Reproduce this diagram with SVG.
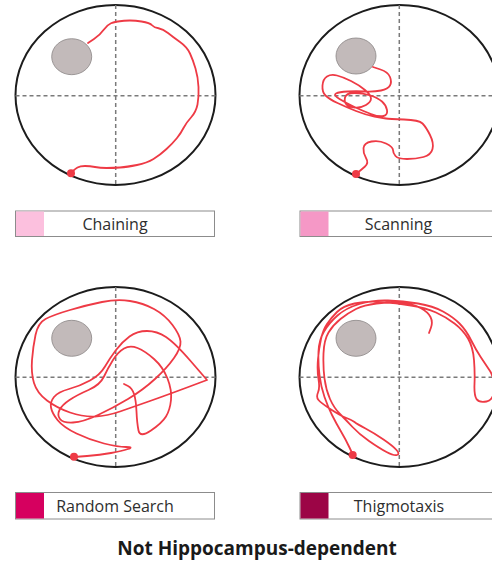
<svg xmlns="http://www.w3.org/2000/svg" width="492" height="563" viewBox="0 0 492 563">
<style>
.pool{fill:#fff;stroke:#1c1c1c;stroke-width:2}
.axis{stroke:#7a7a7a;stroke-width:1.5;stroke-dasharray:4 3;fill:none}
.plat{fill:#c2baba;stroke:#8a8585;stroke-width:0.8}
.track{fill:none;stroke:#ee3a45;stroke-width:1.8;stroke-linecap:round;stroke-linejoin:round}
.start{fill:#ee3a45}
.box{fill:#fff;stroke:#8c8c8c;stroke-width:1}
.lbl{font-family:"Open Sans","Noto Sans",sans-serif;font-size:16px;fill:#2e2e2e;text-anchor:middle}
.title{font-family:"Open Sans","Noto Sans",sans-serif;font-size:19px;font-weight:bold;fill:#1a1a1a;text-anchor:middle}
</style>
<rect width="492" height="563" fill="#fff"/>
<g id="panel-chaining">
<ellipse class="pool" cx="115.5" cy="95" rx="100" ry="90"/>
<line class="axis" x1="15.5" y1="95.7" x2="215.5" y2="95.7"/>
<line class="axis" x1="115.7" y1="5" x2="115.7" y2="185"/>
<ellipse class="plat" cx="71.7" cy="56.7" rx="20" ry="18"/>
<path class="track" d="M88,43 L94,39 Q100,35 103.5,30 Q107,25 111,23.25 Q115,21.5 124,20.75 Q133,20 141.5,21.5 Q150,23 152,25.25 Q154,27.5 158.5,28.25 Q163,29 168,33 Q173,37 180,42 Q187,47 190,53.5 Q193,60 195.5,68.5 Q198,77 198.5,87 Q199,97 197.5,104.5 Q196,112 191,117.5 Q186,123 183.5,128 Q181,133 177,138 Q173,143 166.5,149 Q160,155 153.5,159 Q147,163 137,165 Q127,167 120,167.5 Q113,168 106.5,168 Q100,168 95,167 Q90,166 85,166 Q80,166 77.5,167.5 Q75,169 73,171 L71,173"/>
<circle class="start" cx="71" cy="173.3" r="4"/>
</g>
<g id="panel-scanning">
<ellipse class="pool" cx="399.5" cy="95" rx="100" ry="90"/>
<line class="axis" x1="299.5" y1="95.7" x2="499.5" y2="95.7"/>
<line class="axis" x1="399.3" y1="5" x2="399.3" y2="185"/>
<ellipse class="plat" cx="356" cy="56" rx="20" ry="18"/>
<path class="track" d="M373,67 L380.5,69.5 Q388,72 390,77 Q392,82 390,85.5 Q388,89 381,90.5 Q374,92 365,91.5 Q356,91 347.5,91.5 Q339,92 336,93.5 Q333,95 339.5,99 Q346,103 354.5,107 Q363,111 371,114 Q379,117 383.5,116 Q388,115 387,110 Q386,105 382,101.5 Q378,98 370.5,95.5 Q363,93 354.5,93 Q346,93 345,97.5 Q344,102 346.5,104.5 Q349,107 355,107.5 Q361,108 366,105 Q371,102 371,98.5 Q371,95 365,90 Q359,85 351,81 Q343,77 337,75.5 Q331,74 327,76.5 Q323,79 322.5,85.5 Q322,92 325.5,95.5 Q329,99 337.5,103 Q346,107 356,111 Q366,115 374.5,116.5 Q383,118 386,118.5 Q389,119 404,119.5 Q419,120 422.5,123.5 Q426,127 430,135 Q434,143 432.5,149 Q431,155 423.5,157 Q416,159 407,159 Q398,159 395.5,156 Q393,153 393,150 Q393,147 386,143.5 Q379,140 371.5,141.5 Q364,143 363.5,148 Q363,153 366,158 Q369,163 365,166.5 Q361,170 358.5,172 L356,174"/>
<circle class="start" cx="356" cy="174" r="4"/>
</g>
<g id="panel-random">
<ellipse class="pool" cx="115.5" cy="377" rx="100" ry="90"/>
<line class="axis" x1="15.5" y1="377.3" x2="215.5" y2="377.3"/>
<line class="axis" x1="115.7" y1="287" x2="115.7" y2="467"/>
<ellipse class="plat" cx="71.7" cy="338.3" rx="20" ry="18"/>
<path class="track" d="M74,457 L87,456 Q100,455 111,453 Q122,451 128,449 Q134,447 126,447 Q118,447 104,443.5 Q90,440 76.5,433.5 Q63,427 57.5,420 Q52,413 51,407.5 Q50,402 54,397 Q58,392 69,389 Q80,386 90,380.5 Q100,375 105,366.5 Q110,358 116,350 Q122,342 129.5,336.5 Q137,331 147,331 Q157,331 166,337 Q175,343 191,361.5 L207,380 L187,387.5 Q167,395 150,401 Q133,407 120,411.5 Q107,416 95,416.5 Q83,417 70,412.5 Q57,408 47,400.5 Q37,393 34,383 Q31,373 32,360 Q33,347 35.5,335 Q38,323 45.5,319 Q53,315 70,310 Q87,305 102,302 Q117,299 130,301 Q143,303 154,309 Q165,315 172.5,325 Q180,335 180.5,341.5 Q181,348 174,358 Q167,368 155,379 Q143,390 128,399 Q113,408 98,415 Q83,422 73,422.5 Q63,423 60,419 Q57,415 59.5,410 Q62,405 69.5,400 Q77,395 88.5,390 Q100,385 104,376.5 Q108,368 113,360 Q118,352 124,348.5 Q130,345 137.5,348 Q145,351 154,359 Q163,367 167.5,378.5 Q172,390 171,400 Q170,410 166,416.5 Q162,423 151,430.5 Q140,438 138.5,430.5 Q137,423 136.5,411.5 Q136,400 134,394 Q132,388 128,386 L124,384"/>
<circle class="start" cx="74" cy="456.7" r="4"/>
</g>
<g id="panel-thigmotaxis">
<ellipse class="pool" cx="399.5" cy="377" rx="100" ry="90"/>
<line class="axis" x1="299.5" y1="377.3" x2="499.5" y2="377.3"/>
<line class="axis" x1="399.3" y1="287" x2="399.3" y2="467"/>
<ellipse class="plat" cx="356" cy="338.3" rx="20" ry="18"/>
<path class="track" d="M353,455 L349.5,447.5 Q346,440 341,431.5 Q336,423 332,415 Q328,407 324.5,397 Q321,387 319.5,375 Q318,363 318.5,351.5 Q319,340 324,331.5 Q329,323 337.5,315.5 Q346,308 359.5,304 Q373,300 388,300.5 Q403,301 418,303.5 Q433,306 443,311.5 Q453,317 459.5,323.5 Q466,330 471,340 Q476,350 481,357.5 Q486,365 490,371 Q494,377 494,388.5 Q494,400 486.5,401.5 Q479,403 476.5,399 Q474,395 474.5,384 Q475,373 474,360 Q473,347 468,338.5 Q463,330 454.5,323.5 Q446,317 436,312.5 Q426,308 411,305.5 Q396,303 381,302 Q366,301 354.5,303.5 Q343,306 337,312 Q331,318 327,324 Q323,330 321,339 Q319,348 318,359 Q317,370 318.5,379 Q320,388 318,392.5 Q316,397 318.5,400 Q321,403 331,409.5 Q341,416 346.5,418 Q352,420 354.5,422 Q357,424 365.5,428.5 Q374,433 383.5,439.5 Q393,446 396.5,450 Q400,454 397,455 Q394,456 386.5,452 Q379,448 369,441 Q359,434 352.5,427 Q346,420 340,414 Q334,408 330,399 Q326,390 324.5,378.5 Q323,367 323.5,353.5 Q324,340 328.5,332.5 Q333,325 340.5,319 Q348,313 356,309 Q364,305 376.5,303.5 Q389,302 401,303 Q413,304 420.5,308 Q428,312 430.5,317 Q433,322 431,327.5 L429,333"/>
<circle class="start" cx="352.7" cy="455" r="4"/>
</g>
<g id="legend-chaining">
<rect class="box" x="15.5" y="211" width="199" height="25.5"/>
<rect x="16" y="211.5" width="28" height="24.5" fill="#fcc0de"/>
<text class="lbl" x="115" y="229.5">Chaining</text>
</g>
<g id="legend-scanning">
<rect class="box" x="300" y="211" width="199" height="25.5"/>
<rect x="300.5" y="211.5" width="28" height="24.5" fill="#f598c6"/>
<text class="lbl" x="398.5" y="229.5">Scanning</text>
</g>
<g id="legend-random">
<rect class="box" x="15.5" y="492.5" width="199" height="26.5"/>
<rect x="16" y="493" width="28" height="25.5" fill="#d6005f"/>
<text class="lbl" x="115" y="511.5">Random Search</text>
</g>
<g id="legend-thigmotaxis">
<rect class="box" x="300" y="492.5" width="199" height="26.5"/>
<rect x="300.5" y="493" width="28" height="25.5" fill="#9c0546"/>
<text class="lbl" x="399" y="511.5">Thigmotaxis</text>
</g>
<text class="title" x="257" y="554.5">Not Hippocampus-dependent</text>
</svg>
